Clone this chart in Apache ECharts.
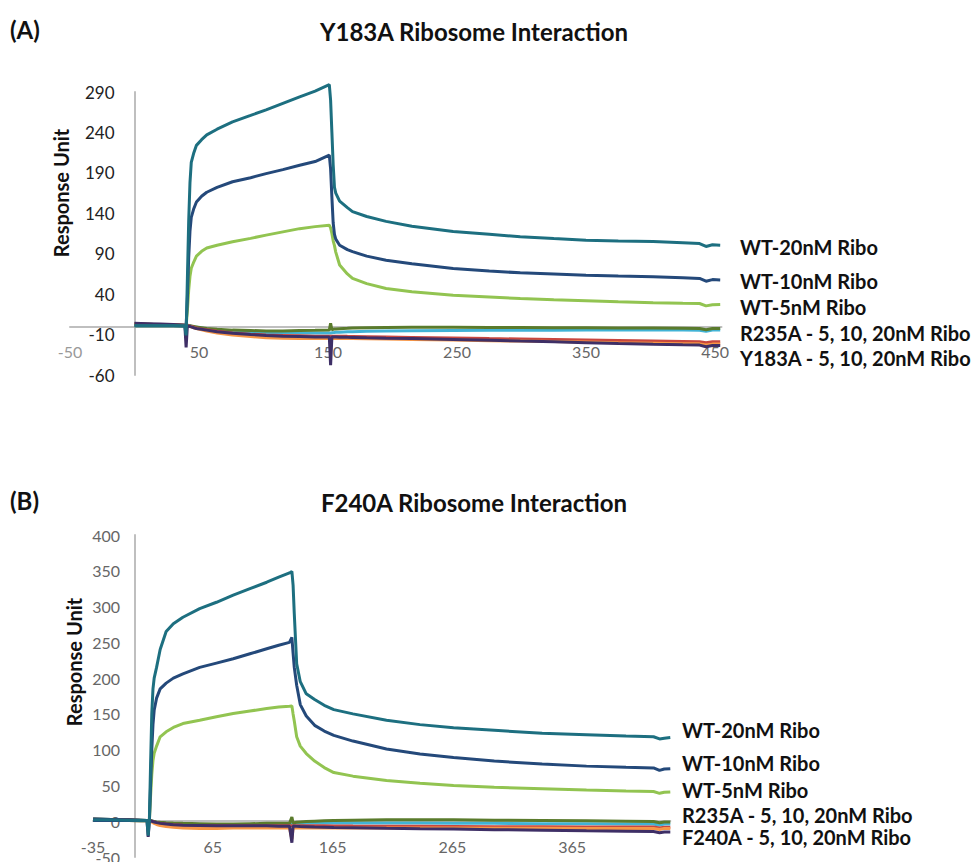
<!DOCTYPE html>
<html>
<head>
<meta charset="utf-8">
<script src="https://cdn.jsdelivr.net/npm/echarts@6/dist/echarts.min.js"></script>
<style>html,body{margin:0;padding:0;background:#fff}#c{width:973px;height:862px}</style>
</head>
<body>
<div id="c"></div>
<script>
// ---------- Panel A (Y183A) ----------
var timeA = [0,10,20,30,39, 40,41,42,43,44, 46,48,52,56,64, 76,90,102,115,128, 140,151,152,153,154, 155,156,159,165,169, 180,195,215,247,275, 299,325,350,375,402, 425,438,443,448,454];
var wt20A = [1,1,1,1,0.5, -11,60,130,178,203, 215,224,231,237,244, 253,261,268,276,284, 291,299,280,240,200, 172,165,155,147,142, 136,130,124,117.5,114, 111,108.7,106.7,105.8,105, 103.7,102.6,99,101,100.5];
var wt10A = [1,1,1,1,0.5, 0,35,85,118,135, 146,154,161,166,172, 179,184,189,194,199.5, 204,212,195,160,128, 114,108,100.5,95,92.5, 87,82,77.5,71.7,68.5, 66.4,65,63.5,62.4,61.4, 60.3,59.4,56,58,57.5];
var wt5A  = [1,1,1,1,0.5, 0,20,45,62,72, 80,87,93,97,100.5, 104.7,109,113,117,121, 123.5,125.3,122,115,106, 100,92,76,65,59.4, 53,47,43,38.7,36.5, 34.6,33,31.8,30.5,29.3, 28.7,28.4,25.5,27,27.2];
var r235aCyanA  = [3,2.7,2.3,2,1.5, 1.5,1.5,1.2,1,0.5, -0.5,-1,-2,-3,-4.5, -6,-7,-7.5,-8,-8, -8,-8,-8,-7.8,-7.6, -7.4,-7.2,-7,-6.6,-6.4, -6,-5.6,-5.3,-5,-4.8, -4.7,-4.6,-4.5,-4.5,-4.5, -4.5,-4.6,-6,-4.5,-4.5];
var r235aOliveA = [3,2.7,2.3,2,1.5, 1.5,1.5,1.3,1,0.5, 0,-0.5,-1.5,-2.5,-3.5, -4.5,-5,-5.5,-5.5,-5, -4.8,-4.5,4,-4,-3.5, -3.2,-3,-2.7,-2.3,-2, -1.5,-1.2,-1,-1,-1.2, -1.3,-1.5,-1.6,-1.8,-2, -2.2,-2.4,-4,-2.5,-2.5];
var mutRedA    = [3,2.7,2.3,2,1.5, 1.5,1.2,1,0.5,0, -1,-2,-3,-4,-6, -8,-9.5,-10.5,-11,-11.5, -12,-12,-12,-12,-12, -12,-12,-12,-12.2,-12.3, -12.6,-13,-13.5,-14.3,-15, -15.5,-16.2,-16.8,-17.4,-18, -18.5,-18.8,-20,-19,-19];
var mutOrangeA = [2.5,2.2,2,1.7,1.2, 1.2,1,0.5,0,-0.5, -1.5,-2.5,-4,-5.5,-8, -10.5,-12.5,-14,-14.5,-15, -15,-15,-15,-15,-15, -15,-15,-15,-15,-15, -15.2,-15.5,-16,-16.8,-17.5, -18,-18.7,-19.3,-20,-20.6, -21.2,-21.5,-23,-21.8,-21.8];
var mutPurpleA = [4,3.5,3,2.5,1.5, -26,1,0.5,0,-0.5, -1.5,-2.5,-3.5,-4.5,-6.5, -8.5,-10,-11,-12,-12.5, -13,-13,-48,-13,-13, -13,-13,-13.2,-13.4,-13.5, -14,-14.5,-15,-16,-17, -18,-19,-20,-21,-22, -22.7,-23,-25,-23.5,-23.5];
var xTicksA = [-50,50,150,250,350,450];

// ---------- Panel B (F240A) ----------
var timeB = [-35,-20,-5,5,10, 11,12,13,14,15, 16,18,21,26,32, 40,54,68,82,96, 110,120,129,131,132, 133,135,138,143,150, 158,166,182,210,238, 266,300,340,377,410, 433,438,442,447];
var wt20B = [2,2,1.5,1,1, -20,2,80,150,185, 200,215,240,265,276, 285,297,306,316,325, 334,341,347,349,330, 290,220,195,178,170, 162,156,150,141,135, 130.5,127,123,121,119, 118,115,116,117];
var wt10B = [1,1,1,0.5,0.5, 0.5,0,50,100,135, 155,172,185,193,200, 206,215,221,227,234, 241,246,250,257,235, 215,190,163,147,134, 126,120,112,101,94, 89,84,80,77,75.5, 74.5,71,73,73.5];
var wt5B  = [1,1,1,0.5,0.5, 0.5,0,35,65,85, 95,105,118,125,131, 136.5,141,146,150.5,154, 157.5,159.5,160.7,161,150, 140,118,105,94.6,84, 75,68,63,57,53, 50,47.5,45.5,43.5,42.3, 41.5,39,40.5,41];
var r235aCyanB  = [3,2.5,2,1.5,1, 1,1,1,0.5,0, -0.5,-1.5,-2,-3,-3.5, -4,-4.5,-5,-5,-5, -4.5,-4.5,-4.5,-4.5,-4.5, -4,-4,-3.5,-3,-2.5, -2.5,-2.5,-2.5,-2.5,-2.5, -3,-3,-3.5,-3.5,-4, -4,-5.5,-4,-4];
var r235aOliveB = [3,2.5,2,1.5,1, 1,1,1,0.5,0, -0.5,-1,-1.5,-2,-2.5, -3,-3.5,-4,-4,-3.5, -3,-3,-3,6,-2.5, -2,-1.5,-1,-0.5,0, 0.5,1,1.5,2,2, 2,1.5,1,0.5,0, -0.5,-2,-1,-1];
var mutRedB    = [2.5,2,1.5,1,1, 1,0.5,0.5,0,-0.5, -1,-2,-3,-4,-5, -5.5,-6,-6.5,-6.5,-6.5, -6.5,-6.5,-6.5,-6.5,-6.5, -6.5,-6.5,-6.5,-6.5,-6.5, -6.5,-6.6,-6.8,-7,-7.2, -7.4,-7.6,-7.8,-8,-8, -8.2,-9.5,-8.3,-8.3];
var mutOrangeB = [2,1.5,1,0.5,0.5, 0.5,0,0,-1,-2, -3,-4.5,-6,-7.5,-8.5, -9.5,-10,-10,-9.5,-9.5, -9.5,-9.5,-9.5,-25,-9.5, -9.5,-9.5,-9.5,-9.5,-9.5, -9.5,-9.5,-9.5,-9.5,-9.5, -9.5,-9.7,-9.8,-10,-10, -10,-11.5,-10,-10];
var mutPurpleB = [3,2.5,2,1.5,1, -22,1,0.5,0,-0.5, -1,-2,-3,-4,-5, -5.5,-6,-6.5,-6.5,-6.5, -6.5,-7,-7,-30,-7, -7,-7.2,-7.4,-7.6,-8, -8.3,-8.6,-9,-9.8,-10.5, -11,-11.8,-12.6,-13.4,-14, -14.5,-16,-15,-15];
var xTicksB = [-35,65,165,265,365];

var labelsA = ['WT-20nM Ribo','WT-10nM Ribo','WT-5nM Ribo','R235A - 5, 10, 20nM Ribo','Y183A - 5, 10, 20nM Ribo'];
var labelsB = ['WT-20nM Ribo','WT-10nM Ribo','WT-5nM Ribo','R235A - 5, 10, 20nM Ribo','F240A - 5, 10, 20nM Ribo'];

// ---------- build ----------
var FONT = 'Lato, "Open Sans", sans-serif';
var C = {teal:'#1d6f80', navy:'#24497a', green:'#92c451', olive:'#5a7b2c', cyan:'#41b3d6', red:'#c8473f', orange:'#f79646', purple:'#3e2f66'};
function pairs(t, v){ return t.map(function(x,i){ return [x, v[i]]; }); }
function mk(t, v, color, gi, z){
  return {type:'line', xAxisIndex:gi, yAxisIndex:gi, data:pairs(t,v), showSymbol:false, symbol:'none',
    lineStyle:{color:color, width:3}, itemStyle:{color:color}, z:z, silent:true, clip:false};
}
var series = [
  mk(timeA, r235aCyanA, C.cyan, 0, 2), mk(timeA, r235aOliveA, C.olive, 0, 3),
  mk(timeA, mutRedA, C.red, 0, 4), mk(timeA, mutOrangeA, C.orange, 0, 5), mk(timeA, mutPurpleA, C.purple, 0, 6),
  mk(timeA, wt5A, C.green, 0, 7), mk(timeA, wt10A, C.navy, 0, 8), mk(timeA, wt20A, C.teal, 0, 9),
  mk(timeB, r235aCyanB, C.cyan, 1, 2), mk(timeB, r235aOliveB, C.olive, 1, 3),
  mk(timeB, mutRedB, C.red, 1, 4), mk(timeB, mutOrangeB, C.orange, 1, 5), mk(timeB, mutPurpleB, C.purple, 1, 6),
  mk(timeB, wt5B, C.green, 1, 7), mk(timeB, wt10B, C.navy, 1, 8), mk(timeB, wt20B, C.teal, 1, 9)
];

function txt(s, x, y, font, color, align, rot){
  return {type:'text', x:x, y:y, rotation:rot||0, z:100, silent:true,
    style:{text:s, font:font, fill:color, textAlign:align||'left', align:align||'left', textVerticalAlign:'middle', verticalAlign:'middle'}};
}
var graphic = [
  txt('(A)', 10, 29, 'bold 24px ' + FONT, '#111', 'left'),
  txt('Y183A Ribosome Interaction', 474, 31, 'bold 24px ' + FONT, '#111', 'center'),
  txt('(B)', 10, 500, 'bold 24px ' + FONT, '#111', 'left'),
  txt('F240A Ribosome Interaction', 474, 502, 'bold 24px ' + FONT, '#111', 'center'),
  txt('Response Unit', 61, 193, 'bold 20px ' + FONT, '#111', 'center', Math.PI/2),
  txt('Response Unit', 74, 662, 'bold 20px ' + FONT, '#111', 'center', Math.PI/2)
];
var yA = [247, 281, 307, 333, 358];
labelsA.forEach(function(s,i){ graphic.push(txt(s, 740, yA[i], 'bold 20px ' + FONT, '#111', 'left')); });
var yB = [730, 763, 790, 815, 837];
labelsB.forEach(function(s,i){ graphic.push(txt(s, 682, yB[i], 'bold 20px ' + FONT, '#111', 'left')); });

var axisLineStyle = {color:'#bfbfbf', width:2};
var option = {
  animation:false,
  textStyle:{fontFamily:FONT},
  grid:[
    {left:70, top:92, width:651.5, height:283, containLabel:false, outerBoundsMode:'none'},
    {left:93.1, top:535, width:577.2, height:322, containLabel:false, outerBoundsMode:'none'}
  ],
  xAxis:[
    {type:'value', gridIndex:0, min:-50, max:455, interval:100, position:'bottom', offset:-48.5,
      axisLine:{onZero:false, lineStyle:axisLineStyle}, axisTick:{show:false}, splitLine:{show:false},
      axisLabel:{showMaxLabel:false, margin:17, fontSize:16, color:'#666', fontFamily:FONT,
        formatter:function(v){ if (xTicksA.indexOf(v) < 0) return ''; return v === -50 ? '{l|-50}' : String(v); },
        rich:{l:{color:'#999', fontSize:16, fontFamily:FONT}}}},
    {type:'value', gridIndex:1, min:-35, max:447, interval:100, position:'bottom', offset:-35.8,
      axisLine:{onZero:false, lineStyle:axisLineStyle}, axisTick:{show:false}, splitLine:{show:false},
      axisLabel:{showMaxLabel:false, margin:17, fontSize:16, color:'#666', fontFamily:FONT,
        formatter:function(v){ return xTicksB.indexOf(v) < 0 ? '' : String(v); }}}
  ],
  yAxis:[
    {type:'value', gridIndex:0, min:-60, max:290, interval:50, position:'left', offset:-64.5,
      axisLine:{onZero:false, lineStyle:axisLineStyle}, axisTick:{show:false}, splitLine:{show:false},
      axisLabel:{margin:20, fontSize:17, color:'#222', fontFamily:FONT}},
    {type:'value', gridIndex:1, min:-50, max:400, interval:50, position:'left', offset:-41.9,
      axisLine:{onZero:false, lineStyle:axisLineStyle}, axisTick:{show:false}, splitLine:{show:false},
      axisLabel:{margin:15, fontSize:16, color:'#666', fontFamily:FONT}}
  ],
  series:series,
  graphic:graphic
};
var chart = echarts.init(document.getElementById('c'), null, {renderer:'svg'});
chart.setOption(option);
</script>
</body>
</html>
